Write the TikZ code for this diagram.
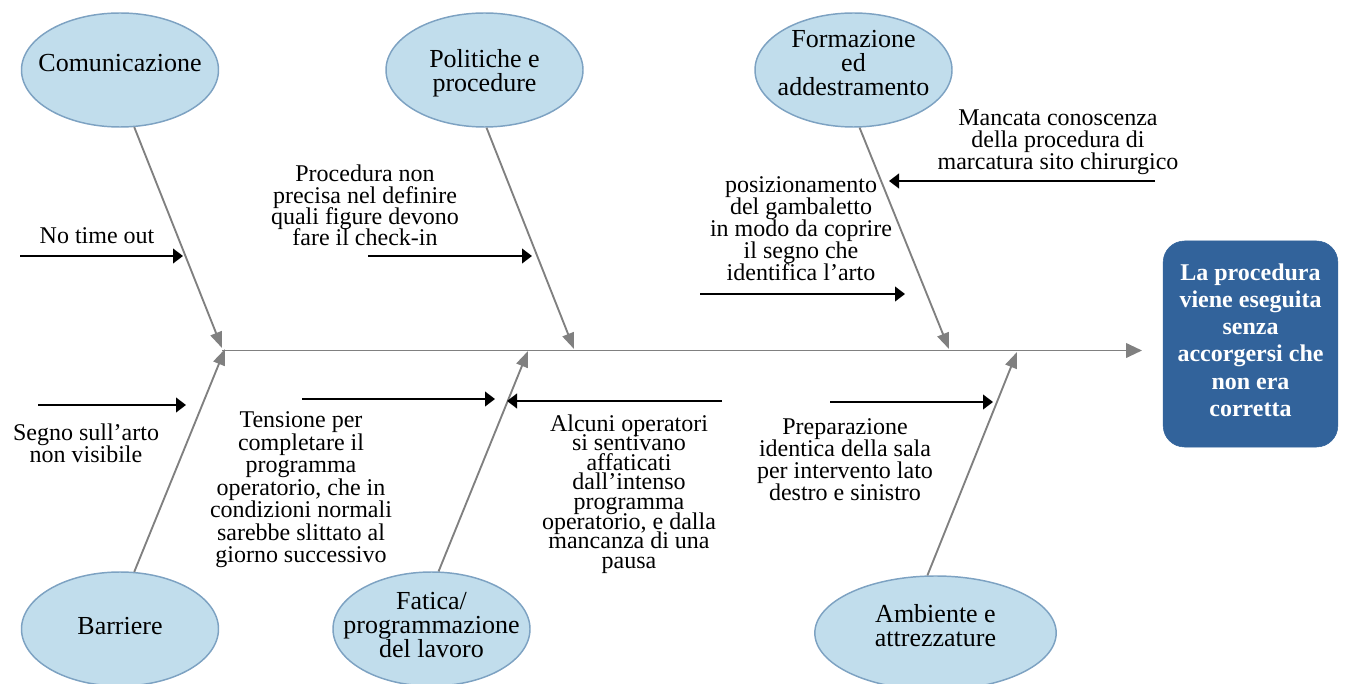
\documentclass[tikz,border=0pt]{standalone}
\usepackage{fontspec}
\setmainfont{Liberation Serif}
\usetikzlibrary{arrows.meta,shapes.geometric}
\definecolor{ellfill}{RGB}{193,221,236}
\definecolor{elldraw}{RGB}{125,162,194}
\definecolor{bonegray}{RGB}{128,128,128}
\definecolor{resfill}{RGB}{50,99,155}
\newcommand{\tightls}{\lineskiplimit -50pt\relax}
\begin{document}
\begin{tikzpicture}[x=0.75pt,y=-0.75pt,
 ell/.style={ellipse,draw=elldraw,fill=ellfill,line width=1.1pt,minimum width=147.75pt,minimum height=85.5pt,inner sep=0pt},
 etxt/.style={align=center,font={\fontsize{19.5}{18}\selectfont\tightls},inner sep=0pt},
 ctxt/.style={align=center,font={\fontsize{18}{16.5}\selectfont\tightls},inner sep=0pt},
 bone/.style={draw=bonegray,line width=1.4pt,-{Triangle[length=12pt,width=9pt]}},
 spine/.style={draw=bonegray,line width=1.4pt,-{Triangle[length=12pt,width=11pt]}},
 cause/.style={draw=black,line width=1.5pt,-{Triangle[length=7.5pt,width=11pt]}},
 result/.style={rectangle,rounded corners=16pt,fill=resfill,draw=resfill,minimum width=131pt,minimum height=154.5pt,inner sep=0pt},
 restxt/.style={align=center,text=white,font={\bfseries\fontsize{18}{20.4}\selectfont},inner sep=0pt}
 ]
\useasboundingbox (0,0) rectangle (1345,684);

% category ellipses
\node[ell] (com) at (120,70) {};
\node[etxt] (comt) at (120,63) {Comunicazione};
\node[ell] (pol) at (484.5,70) {};
\node[etxt] (polt) at (484.5,73) {Politiche e\\procedure};
\node[ell] (for) at (853.5,70) {};
\node[etxt] (fort) at (853.5,63) {Formazione\\ed\\addestramento};
\node[ell] (bar) at (120,629) {};
\node[etxt] (bart) at (120,626) {Barriere};
\node[ell] (fat) at (431.5,629) {};
\node[etxt] (fatt) at (431.5,625) {Fatica/\\programmazione\\del lavoro};
\node[ell,minimum width=181pt] (amb) at (935.5,633) {};
\node[etxt] (ambt) at (935.5,626) {Ambiente e\\attrezzature};

% result
\node[result] (res) at (1250.5,344) {};
\node[restxt] (rest) at (1250.5,340) {La procedura\\viene eseguita\\senza\\accorgersi che\\non era\\corretta};

% spine
\coordinate (sps) at (222,350.5);
\coordinate (spe) at (1142,350.5);
\draw[spine] (sps) -- (spe);

% bones
\coordinate (comtip) at (222,348);
\coordinate (poltip) at (574,349);
\coordinate (fortip) at (949,349);
\coordinate (bartip) at (225,349);
\coordinate (fattip) at (528,351);
\coordinate (ambtip) at (1017,352);
\draw[bone] (com.-76) -- (comtip);
\draw[bone] (pol.-88) -- (poltip);
\draw[bone] (for.-84) -- (fortip);
\draw[bone] (bar.76) -- (bartip);
\draw[bone] (fat.83) -- (fattip);
\draw[bone] (amb.98) -- (ambtip);

% cause texts
\node[ctxt] (nto) at (97,236) {No time out};
\node[ctxt,font={\fontsize{18}{16}\selectfont\tightls}] (proc) at (365,205.5) {Procedura non\\precisa nel definire\\quali figure devono\\fare il check-in};
\node[ctxt] (pos) at (801,229) {posizionamento\\del gambaletto\\in modo da coprire\\il segno che\\identifica l’arto};
\node[ctxt] (manc) at (1058,142.5) {Mancata conoscenza\\della procedura di\\marcatura sito chirurgico};
\node[ctxt] (seg) at (86,443.5) {Segno sull’arto\\non visibile};
\node[ctxt,font={\fontsize{18}{16.9}\selectfont\tightls}] (tens) at (301,490) {Tensione per\\completare il\\programma\\operatorio, che in\\condizioni normali\\sarebbe slittato al\\giorno successivo};
\node[ctxt,font={\fontsize{18}{14.7}\selectfont\tightls}] (alc) at (629,494) {Alcuni operatori\\si sentivano\\affaticati\\dall’intenso\\programma\\operatorio, e dalla\\mancanza di una\\pausa};
\node[ctxt] (prep) at (845,460) {Preparazione\\identica della sala\\per intervento lato\\destro e sinistro};

% cause arrows
\coordinate (a1s) at (20,256);   \coordinate (a1e) at (183,256);
\coordinate (a2s) at (368,256);  \coordinate (a2e) at (532,256);
\coordinate (a3s) at (700,294);  \coordinate (a3e) at (905,294);
\coordinate (a4s) at (1155,181); \coordinate (a4e) at (889,181);
\coordinate (a5s) at (38,405);   \coordinate (a5e) at (186,405);
\coordinate (a6s) at (302,399);  \coordinate (a6e) at (495,399);
\coordinate (a7s) at (722,401);  \coordinate (a7e) at (507,401);
\coordinate (a8s) at (830,402);  \coordinate (a8e) at (993,402);
\draw[cause] (a1s) -- (a1e);
\draw[cause] (a2s) -- (a2e);
\draw[cause] (a3s) -- (a3e);
\draw[cause] (a4s) -- (a4e);
\draw[cause] (a5s) -- (a5e);
\draw[cause] (a6s) -- (a6e);
\draw[cause] (a7s) -- (a7e);
\draw[cause] (a8s) -- (a8e);
\end{tikzpicture}
\end{document}
